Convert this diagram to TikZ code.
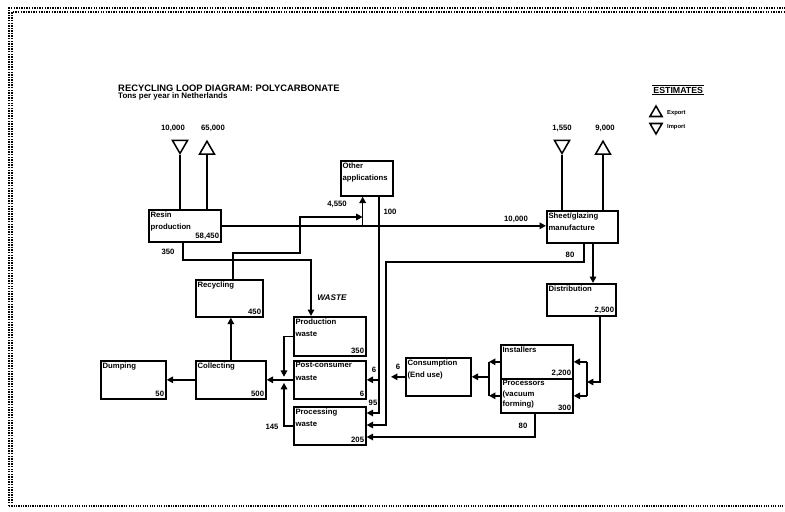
\documentclass[tikz,border=0pt]{standalone}
\usepackage{fontspec}
\setmainfont{Liberation Sans}[BoldFont={Liberation Sans Bold},ItalicFont={Liberation Sans Italic},BoldItalicFont={Liberation Sans Bold Italic}]
\usetikzlibrary{arrows.meta,calc,shapes.geometric}
\begin{document}
\begin{tikzpicture}[x=.03cm,y=-.03cm,font=\bfseries\fontsize{6.6}{10.5}\selectfont,>={Triangle[length=5.5pt,width=5.5pt]},
box/.style={draw,line width=1.4pt,anchor=north west,inner sep=0pt},
txt/.style={anchor=north west,inner sep=2pt,align=left},
num/.style={anchor=south east,inner sep=2pt},
flow/.style={->,line width=1.4pt},
tri/.style={draw,line width=1.3pt,regular polygon,regular polygon sides=3,minimum size=.52cm,inner sep=0pt},
tridown/.style={tri,shape border rotate=180}]
\useasboundingbox(0,0)rectangle(785,512);
\draw[densely dotted,line width=1.2pt](9,506)--(9,8)--(785,8)(12,506)--(12,12)--(785,12);\draw[densely dotted,line width=1pt](9,506)--(785,506);
\node[anchor=west,inner sep=0pt,font=\bfseries\fontsize{8}{8}\selectfont](title)at(118,88){RECYCLING LOOP DIAGRAM: POLYCARBONATE};
\node[anchor=north west,inner sep=0pt,yshift=-1pt,font=\bfseries\fontsize{6.8}{8}\selectfont](sub)at(title.south west){Tons per year in Netherlands};
\node[anchor=west,inner sep=1pt,font=\bfseries\fontsize{7.5}{8}\selectfont](est)at(652,90){ESTIMATES};\draw[line width=1pt](est.north west)--(est.north east)(est.south west)--(est.south east);
\node[tri,minimum size=.42cm](lexp)at(656,113){};\node[anchor=west,font=\bfseries\fontsize{5}{6}\selectfont](lexpt)at(663,113){Export};
\node[tridown,minimum size=.42cm](limp)at(656,127){};\node[anchor=west,font=\bfseries\fontsize{5}{6}\selectfont](limpt)at(663,127){Import};
\node[box,minimum width=2.16cm,minimum height=.96cm,label={[txt]north west:Resin\\production},label={[num]south east:{58,450}}](resin)at(148,209){};
\node[box,minimum width=1.56cm,minimum height=1.05cm,label={[txt]north west:Other\\applications}](other)at(340,160){};
\node[box,minimum width=2.13cm,minimum height=.96cm,label={[txt]north west:Sheet/glazing\\manufacture}](sheet)at(546,210){};
\node[box,minimum width=2.07cm,minimum height=.96cm,label={[txt]north west:Distribution},label={[num]south east:{2,500}}](dist)at(546,283){};
\node[box,minimum width=2.16cm,minimum height=1.02cm,label={[txt]north west:Installers},label={[num]south east:{2,200}}](inst)at(500,344){};
\node[box,minimum width=2.16cm,minimum height=1.02cm,label={[txt,font=\bfseries\fontsize{6.6}{9}\selectfont]north west:Processors\\(vacuum\\forming)},label={[num]south east:300}](proc)at(500,378){};
\node[box,minimum width=1.95cm,minimum height=1.14cm,label={[txt]north west:Consumption\\(End use)}](cons)at(405,357){};
\node[box,minimum width=2.16cm,minimum height=1.17cm,label={[txt]north west:Production\\waste},label={[num]south east:350}](prodw)at(293,316){};
\node[box,minimum width=2.16cm,minimum height=1.14cm,label={[txt]north west:Post-consumer\\waste},label={[num]south east:6}](postw)at(293,360){};
\node[box,minimum width=2.16cm,minimum height=1.14cm,label={[txt]north west:Processing\\waste},label={[num]south east:205}](procw)at(293,406){};
\node[box,minimum width=2.01cm,minimum height=1.11cm,label={[txt]north west:Recycling},label={[num]south east:450}](recyc)at(195,279){};
\node[box,minimum width=2.1cm,minimum height=1.14cm,label={[txt]north west:Collecting},label={[num]south east:500}](coll)at(195,360){};
\node[box,minimum width=1.95cm,minimum height=1.14cm,label={[txt]north west:Dumping},label={[num]south east:50}](dump)at(100,360){};
\node[tridown,anchor=south](rimp)at(180,155){};\node[tri,anchor=south](rexp)at(207,155){};\node(rimpv)at(173,128){10,000};\node(rexpv)at(213,128){65,000};
\draw[line width=1.4pt](rimp.south)--(rimp.south|-resin.north)(rexp.south)--(rexp.south|-resin.north);
\node[tridown,anchor=south](simp)at(562,155){};\node[tri,anchor=south](sexp)at(603,155){};\node(simpv)at(562,128){1,550};\node(sexpv)at(605,128){9,000};
\draw[line width=1.4pt](simp.south)--(simp.south|-sheet.north)(sexp.south)--(sexp.south|-sheet.north);
\coordinate(br)at($(resin.east)+(141,0)$);\draw[flow](resin.east)--(resin.east-|sheet.west);\draw[flow](br)--(br|-other.south);
\node(v4550)at(337,204){4,550};\node(v10000)at(516,219){10,000};\node(v100)at(390,212){100};
\coordinate(r1)at(233,253);\coordinate(r2)at(300,217);\draw[flow](recyc.north-|r1)--(r1)-|(r2)--(r2-|br);
\coordinate(a2)at(379,413);\draw[flow](other.south-|a2)--(a2)--(a2-|procw.east);\draw[flow](a2|-postw.east)--(postw.east);
\node(v6a)at(374,370){6};\node(v95)at(373,403){95};
\coordinate(b1)at(584,262);\coordinate(b2)at(386,425);\draw[flow](b1|-sheet.south)--(b1)-|(b2)--(b2-|procw.east);\node(v80a)at(570,255){80};
\coordinate(c1)at(535,437);\draw[flow](c1|-proc.south)--(c1)--(c1-|procw.east);\node(v80b)at(523,426){80};
\coordinate(c2)at(391,0);\draw[flow](cons.west)--(cons.west-|c2);\node(v6b)at(398,367){6};
\coordinate(d1)at(593,0);\draw[flow](sheet.south-|d1)--(d1|-dist.north);
\coordinate(d2)at(600,382);\coordinate(d3)at(587,0);\draw[flow](dist.south-|d2)--(d2)--(d2-|d3);
\draw[line width=1.4pt](d3|-inst.east)--(d3|-proc.east);\draw[flow](d3|-inst.east)--(inst.east);\draw[flow](d3|-proc.east)--(proc.east);
\coordinate(xl)at(489,0);\draw[flow](inst.west)--(inst.west-|xl);\draw[flow](proc.west)--(proc.west-|xl);\draw[line width=1.4pt](inst.west-|xl)--(proc.west-|xl);\draw[flow](xl|-cons.east)--(cons.east);
\coordinate(w1)at(183,260);\coordinate(w2)at(311,0);\draw[flow](resin.south-|w1)--(w1)-|(w2|-prodw.north);
\node(v350)at(168,252){350};\node[font=\bfseries\itshape\fontsize{7}{8}\selectfont](waste)at(332,298){WASTE};
\coordinate(xc)at(284,0);\draw[flow](prodw.west)-|($(xc|-postw.west)+(0,-3)$);\draw[flow](procw.west)-|($(xc|-postw.west)+(0,3)$);\draw[flow](postw.west)--(postw.west-|coll.east);
\node(v145)at(272,427){145};
\draw[flow](coll.north)--(coll.north|-recyc.south);\draw[flow](coll.west)--(coll.west-|dump.east);
\end{tikzpicture}
\end{document}
